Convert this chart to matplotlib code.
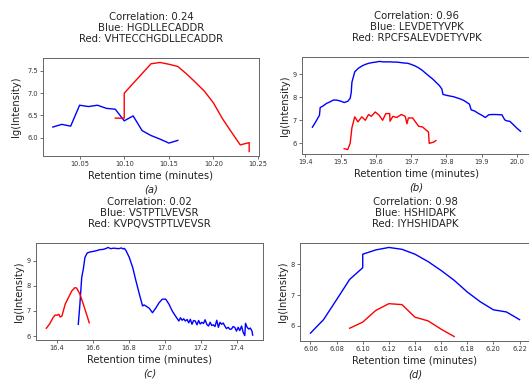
import matplotlib
matplotlib.use('Agg')
import matplotlib.pyplot as plt

# panel (a)
a_blue_x = [10.02, 10.03, 10.04, 10.05, 10.06, 10.07, 10.08, 10.09, 10.10, 10.11, 10.12, 10.13, 10.14, 10.15, 10.16]
a_blue_y = [6.24, 6.30, 6.26, 6.73, 6.70, 6.73, 6.66, 6.64, 6.38, 6.49, 6.16, 6.05, 5.97, 5.88, 5.94]
a_red_x = [10.09, 10.10, 10.10, 10.11, 10.12, 10.13, 10.14, 10.15, 10.16, 10.17, 10.18, 10.19, 10.20,
           10.21, 10.22, 10.23, 10.24, 10.24]
a_red_y = [6.44, 6.44, 7.00, 7.22, 7.44, 7.66, 7.69, 7.65, 7.60, 7.43, 7.24, 7.04, 6.78,
           6.43, 6.13, 5.84, 5.89, 5.69]

# panel (b)
b_blue_x = [19.42, 19.43, 19.44, 19.442, 19.45, 19.46, 19.47, 19.48, 19.49, 19.50, 19.51, 19.52, 19.527,
            19.53, 19.532, 19.54, 19.55, 19.56, 19.57, 19.58, 19.59, 19.60, 19.61, 19.62, 19.63, 19.64,
            19.65, 19.66, 19.67, 19.68, 19.69, 19.70, 19.71, 19.72, 19.73, 19.74, 19.75, 19.76, 19.77,
            19.78, 19.787, 19.79, 19.80, 19.81, 19.82, 19.83, 19.84, 19.85, 19.86, 19.865, 19.87, 19.88,
            19.89, 19.90, 19.91, 19.92, 19.93, 19.94, 19.95, 19.957, 19.965, 19.97, 19.98, 19.99, 20.00, 20.01]
b_blue_y = [6.70, 6.95, 7.22, 7.55, 7.62, 7.73, 7.80, 7.88, 7.87, 7.83, 7.77, 7.82, 7.95,
            8.20, 8.65, 9.10, 9.25, 9.35, 9.42, 9.47, 9.50, 9.52, 9.55, 9.53, 9.53, 9.53,
            9.52, 9.52, 9.50, 9.48, 9.47, 9.42, 9.36, 9.28, 9.18, 9.05, 8.92, 8.80, 8.65,
            8.50, 8.35, 8.12, 8.08, 8.05, 8.02, 7.97, 7.92, 7.85, 7.75, 7.70, 7.45, 7.40,
            7.30, 7.22, 7.12, 7.24, 7.25, 7.25, 7.24, 7.24, 7.02, 6.98, 6.95, 6.80, 6.65, 6.52]
b_red_x = [19.51, 19.52, 19.527, 19.532, 19.54, 19.549, 19.56, 19.57, 19.579, 19.587, 19.598, 19.609,
           19.619, 19.628, 19.639, 19.64, 19.648, 19.659, 19.672, 19.683, 19.688, 19.692, 19.704,
           19.721, 19.732, 19.749, 19.751, 19.763, 19.77]
b_red_y = [5.77, 5.73, 6.00, 6.68, 7.15, 6.93, 7.15, 7.00, 7.25, 7.17, 7.36, 7.22,
           7.00, 7.29, 7.29, 6.96, 7.17, 7.12, 7.25, 7.17, 6.85, 7.10, 7.10,
           6.74, 6.71, 6.49, 6.00, 6.05, 6.12]

# panel (c)
c_blue_x = [16.519, 16.528, 16.538, 16.547, 16.556, 16.569, 16.585, 16.602, 16.62, 16.639, 16.657, 16.675,
            16.684, 16.70, 16.715, 16.73, 16.745, 16.758, 16.768, 16.776, 16.785, 16.803, 16.822, 16.84,
            16.859, 16.877, 16.885, 16.895, 16.905, 16.914, 16.932, 16.95, 16.969, 16.987, 17.006, 17.024,
            17.042, 17.06, 17.079, 17.088, 17.097, 17.106, 17.115, 17.125, 17.134, 17.143, 17.152, 17.161,
            17.17, 17.18, 17.189, 17.198, 17.207, 17.216, 17.225, 17.235, 17.244, 17.253, 17.262, 17.271,
            17.28, 17.29, 17.299, 17.308, 17.317, 17.326, 17.335, 17.344, 17.354, 17.363, 17.372, 17.381,
            17.39, 17.4, 17.409, 17.418, 17.428, 17.437, 17.446, 17.45, 17.459, 17.468, 17.477, 17.486, 17.49]
c_blue_y = [6.47, 7.27, 8.33, 8.67, 9.13, 9.31, 9.35, 9.37, 9.40, 9.44, 9.45, 9.49,
            9.53, 9.48, 9.50, 9.49, 9.48, 9.51, 9.47, 9.49, 9.40, 9.13, 8.73, 8.20,
            7.67, 7.20, 7.24, 7.20, 7.15, 7.11, 6.93, 7.11, 7.33, 7.47, 7.47, 7.27,
            7.00, 6.80, 6.60, 6.73, 6.63, 6.69, 6.60, 6.66, 6.53, 6.67, 6.47, 6.62,
            6.60, 6.45, 6.62, 6.48, 6.55, 6.50, 6.65, 6.46, 6.40, 6.55, 6.42, 6.45,
            6.38, 6.63, 6.35, 6.55, 6.47, 6.52, 6.40, 6.30, 6.35, 6.27, 6.28, 6.38,
            6.35, 6.20, 6.35, 6.22, 6.40, 6.15, 6.02, 6.51, 6.35, 6.28, 6.32, 6.20, 6.04]
c_red_x = [16.341, 16.36, 16.378, 16.39, 16.40, 16.41, 16.418, 16.428, 16.446, 16.464, 16.483, 16.50,
           16.51, 16.528, 16.547, 16.565, 16.58]
c_red_y = [6.31, 6.49, 6.73, 6.84, 6.83, 6.87, 6.76, 6.80, 7.27, 7.53, 7.80, 7.93,
           7.91, 7.67, 7.27, 6.87, 6.53]

# panel (d)
d_blue_x = [6.06, 6.07, 6.08, 6.09, 6.10, 6.10, 6.11, 6.12, 6.13, 6.14, 6.15, 6.16, 6.17, 6.18, 6.19, 6.20, 6.21, 6.22]
d_blue_y = [5.76, 6.20, 6.85, 7.51, 7.89, 8.33, 8.47, 8.55, 8.49, 8.33, 8.09, 7.80, 7.48, 7.10, 6.78, 6.52, 6.45, 6.20]
d_red_x = [6.09, 6.10, 6.11, 6.12, 6.13, 6.14, 6.15, 6.16, 6.17]
d_red_y = [5.92, 6.12, 6.50, 6.72, 6.69, 6.28, 6.16, 5.89, 5.65]

panels = [
    ('Correlation: 0.24', 'HGDLLECADDR', 'VHTECCHGDLLECADDR', '(a)',
     a_blue_x, a_blue_y, a_red_x, a_red_y, [10.05, 10.10, 10.15, 10.20, 10.25], '%.2f', [6.0, 6.5, 7.0, 7.5], '%.1f'),
    ('Correlation: 0.96', 'LEVDETYVPK', 'RPCFSALEVDETYVPK', '(b)',
     b_blue_x, b_blue_y, b_red_x, b_red_y, [19.4, 19.5, 19.6, 19.7, 19.8, 19.9, 20.0], '%.1f', [6, 7, 8, 9], '%d'),
    ('Correlation: 0.02', 'VSTPTLVEVSR', 'KVPQVSTPTLVEVSR', '(c)',
     c_blue_x, c_blue_y, c_red_x, c_red_y, [16.4, 16.6, 16.8, 17.0, 17.2, 17.4], '%.1f', [6, 7, 8, 9], '%d'),
    ('Correlation: 0.98', 'HSHIDAPK', 'IYHSHIDAPK', '(d)',
     d_blue_x, d_blue_y, d_red_x, d_red_y, [6.06, 6.08, 6.10, 6.12, 6.14, 6.16, 6.18, 6.20, 6.22], '%.2f', [6, 7, 8], '%d'),
]

W, H = 529, 384
# axes boxes in pixels: left, right, top, bottom
boxes = [(43, 259, 58, 156), (302, 531, 57, 154), (36, 263, 243, 340), (300, 530, 243, 341)]
ylabel_pads = [4.5, 2, 2, 2]

fig = plt.figure(figsize=(W / 100, H / 100), dpi=100)
for (corr, blue, red, tag, bx, by, rx, ry, xt, xf, yt, yf), (l, r, t, b), ypad in zip(panels, boxes, ylabel_pads):
    ax = fig.add_axes([l / W, 1 - b / H, (r - l) / W, (b - t) / H])
    ax.plot(bx, by, color='blue', lw=1.0)
    ax.plot(rx, ry, color='red', lw=1.0)
    ax.set_xticks(xt)
    ax.set_xticklabels([xf % v for v in xt])
    ax.set_yticks(yt)
    ax.set_yticklabels([yf % v for v in yt])
    ax.tick_params(labelsize=4.8, length=2, width=0.5, pad=1.5, colors='#333333')
    for s in ax.spines.values():
        s.set_color('#666666')
        s.set_linewidth(0.7)
    ax.set_title(f'{corr}\nBlue: {blue}\nRed: {red}', fontsize=7.3, pad=11.5, color='#222222', linespacing=1.12)
    ax.set_xlabel('Retention time (minutes)', fontsize=7.2, labelpad=2.5, color='#222222')
    ax.set_ylabel('lg(Intensity)', fontsize=7.2, labelpad=ypad, color='#222222')
    ax.annotate(tag, xy=(0.5, 0), xycoords='axes fraction', xytext=(0, -20.5), textcoords='offset points',
                ha='center', va='top', fontsize=7.2, style='italic', color='#222222')

fig.savefig('out.png', dpi=100)
